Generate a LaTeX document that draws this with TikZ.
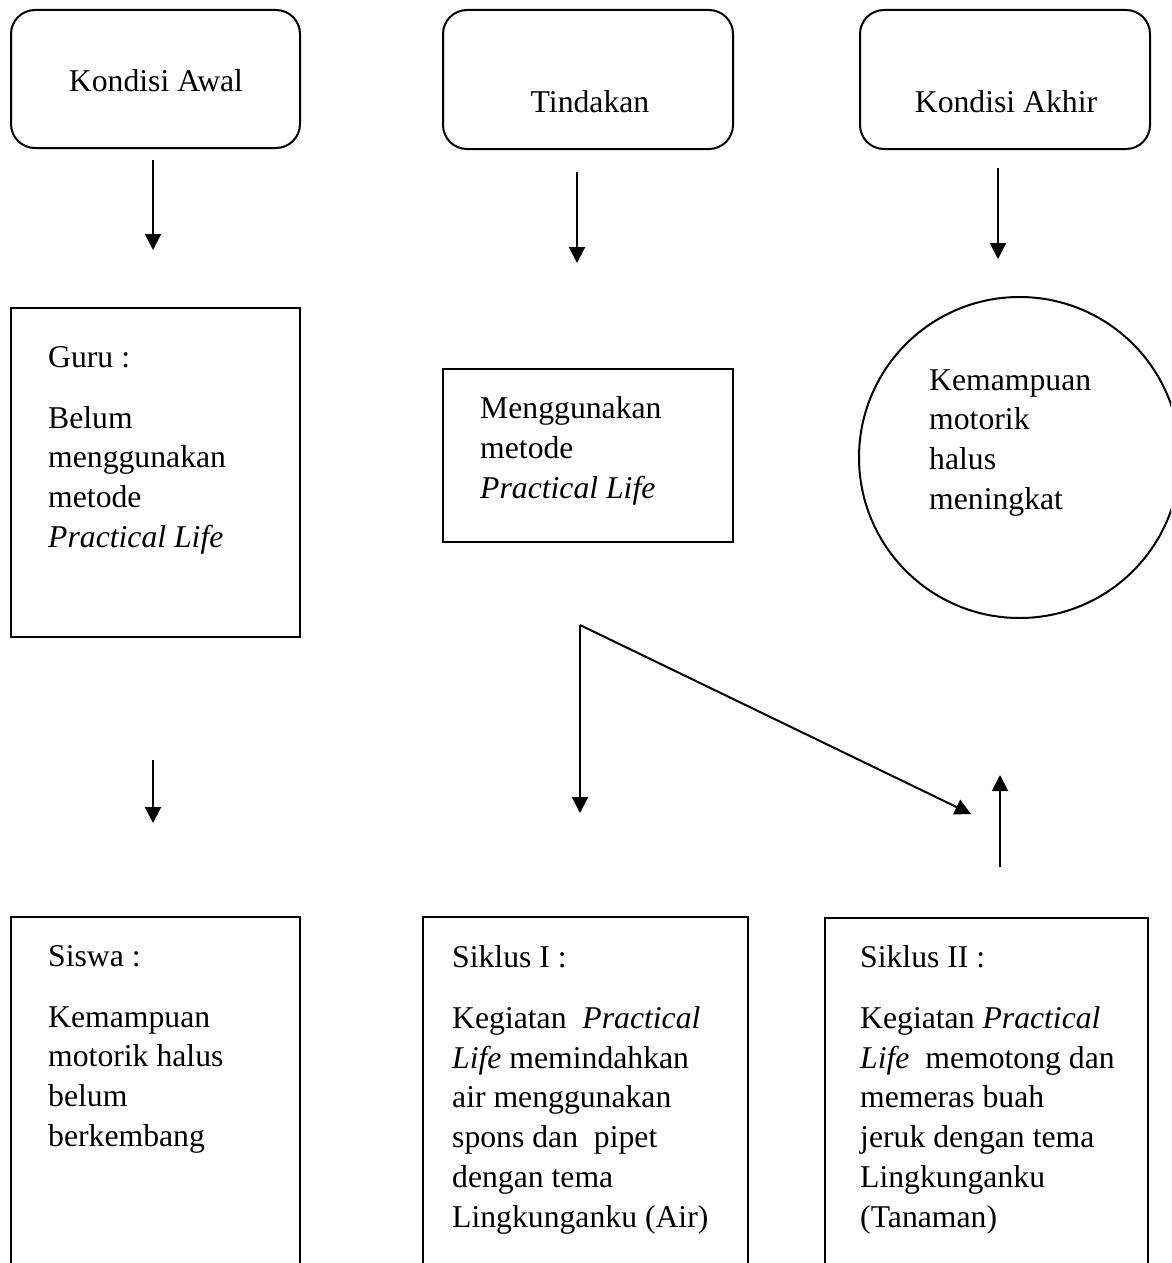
\documentclass[tikz,border=0pt]{standalone}
\usepackage{fontspec}
\setmainfont{Liberation Serif}
\usetikzlibrary{arrows.meta}
\tikzset{
  x=1pt, y=-1pt,
  lw/.style={line width=2pt},
  rbox/.style={draw, lw, rounded corners=24pt, inner sep=0},
  sbox/.style={draw, lw, inner sep=0},
  % base anchor of a multi-line node sits on its last line
  txt/.style={anchor=base west, inner sep=0, align=left, font=\fontsize{31.7}{39.8}\selectfont},
  ctxt/.style={anchor=base, inner sep=0, font=\fontsize{31.7}{39.8}\selectfont},
  arr/.style={lw, -{Triangle[width=16pt,length=16pt]}}
}
\begin{document}
\begin{tikzpicture}
\useasboundingbox (0,0) rectangle (1171,1263);
\clip (0,0) rectangle (1171,1263);
% top rounded boxes
\draw[rbox] (11,10) rectangle (300,148);
\node[ctxt] (t1) at (156,92) {Kondisi Awal};
\draw[rbox] (443,10) rectangle (733,149);
\node[ctxt] (t2) at (590,112) {Tindakan};
\draw[rbox] (860,10) rectangle (1150,149);
\node[ctxt] (t3) at (1006,112) {Kondisi Akhir};
% arrows from top
\coordinate (a1s) at (153,160); \coordinate (a1e) at (153,250);
\coordinate (a2s) at (577,172); \coordinate (a2e) at (577,263);
\coordinate (a3s) at (998,168); \coordinate (a3e) at (998,259);
\draw[arr] (a1s) -- (a1e);
\draw[arr] (a2s) -- (a2e);
\draw[arr] (a3s) -- (a3e);
% middle row
\draw[sbox] (11,308) rectangle (300,637);
\node[txt] (guru) at (48,547.4) {Guru :\\[21.2pt]Belum\\menggunakan\\metode\\\textit{Practical Life}};
\draw[sbox] (443,369) rectangle (733,542);
\node[txt] (meng) at (480,498) {Menggunakan\\metode\\\textit{Practical Life}};
\draw[lw] (1019.5,457.5) circle[radius=160.5];
\node[txt] (kem) at (929,509.4) {Kemampuan\\motorik\\halus\\meningkat};
% lower arrows
\coordinate (b1s) at (153,760); \coordinate (b1e) at (153,823);
\draw[arr] (b1s) -- (b1e);
\coordinate (fork) at (580,625);
\coordinate (forkd) at (580,813);
\coordinate (forkr) at (971,814);
\draw[arr] (fork) -- (forkd);
\draw[arr] (fork) -- (forkr);
\coordinate (ups) at (1000,867); \coordinate (upe) at (1000,775);
\draw[arr] (ups) -- (upe);
% bottom boxes
\draw[sbox] (11,917) rectangle (300,1300);
\node[txt] (siswa) at (48,1146.4) {Siswa :\\[21.2pt]Kemampuan\\motorik halus\\belum\\berkembang};
\draw[sbox] (423,917) rectangle (748,1300);
\node[txt] (s1) at (452,1227.2) {Siklus I :\\[21.2pt]Kegiatan\ \ \textit{Practical}\\\textit{Life} memindahkan\\air menggunakan\\spons dan\ \ pipet\\dengan tema\\Lingkunganku (Air)};
\draw[sbox] (825,918) rectangle (1148,1300);
\node[txt] (s2) at (860,1227.2) {Siklus II :\\[21.2pt]Kegiatan \textit{Practical}\\\textit{Life}\ \ memotong dan\\memeras buah\\jeruk dengan tema\\Lingkunganku\\(Tanaman)};
\end{tikzpicture}
\end{document}
